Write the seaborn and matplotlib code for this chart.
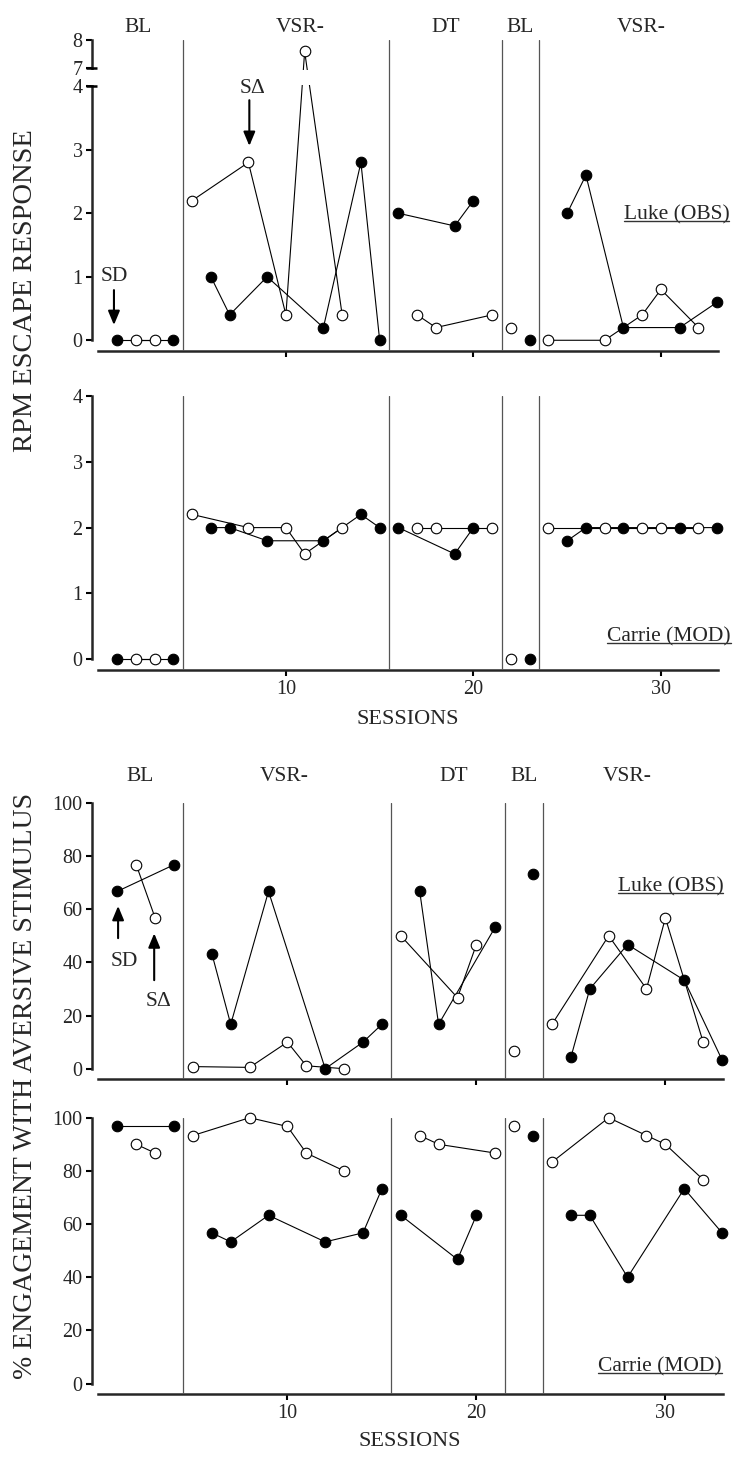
import matplotlib.pyplot as plt
import numpy as np
import pandas as pd
import seaborn as sns
from matplotlib.lines import Line2D

sessions = np.arange(1, 34)
phase_lines = [4.5, 15.5, 21.5, 23.5]
phase_names = ["BL", "VSR-", "DT", "BL", "VSR-"]
phase_label_x_top = [2.1, 10.75, 18.5, 22.48, 28.97]
phase_label_x_bot = [2.2, 9.83, 18.8, 22.5, 27.96]

N = None
# RPM escape response, Luke (SD = filled, S-delta = open)
luke_rpm_sd = [0, N, N, 0, N, 1.0, 0.4, N, 1.0, N, N, 0.2, N, 2.8, 0, 2.0, N, N, 1.8, 2.2,
               N, N, 0, N, 2.0, 2.6, N, 0.2, N, N, 0.2, N, 0.6]
luke_rpm_sdelta = [N, 0, 0, N, 2.2, N, N, 2.8, N, 0.4, 7.6, N, 0.4, N, N, N, 0.4, 0.2, N, N,
                   0.4, 0.2, N, 0, N, N, 0, N, 0.4, 0.8, N, 0.2, N]
# RPM escape response, Carrie
carrie_rpm_sd = [0, N, N, 0, N, 2.0, 2.0, N, 1.8, N, N, 1.8, N, 2.2, 2.0, 2.0, N, N, 1.6, 2.0,
                 N, N, 0, N, 1.8, 2.0, N, 2.0, N, N, 2.0, N, 2.0]
carrie_rpm_sdelta = [N, 0, 0, N, 2.2, N, N, 2.0, N, 2.0, 1.6, N, 2.0, N, N, N, 2.0, 2.0, N, N,
                     2.0, 0, N, 2.0, N, N, 2.0, N, 2.0, 2.0, N, 2.0, N]
# % engagement with aversive stimulus, Luke
luke_eng_sd = [66.7, N, N, 76.7, N, 43.3, 16.7, N, 66.7, N, N, 0, N, 10, 16.7, N, 66.7, 16.7,
               N, N, 53.3, N, 73.3, N, 4.3, 30, N, 46.7, N, N, 33.3, N, 3.3]
luke_eng_sdelta = [N, 76.7, 56.7, N, 0.8, N, N, 0.5, N, 10, 1.1, N, 0, N, N, 50, N, N, 26.7,
                   46.7, N, 6.7, N, 16.7, N, N, 50, N, 30, 56.7, N, 10, N]
# % engagement with aversive stimulus, Carrie
carrie_eng_sd = [96.7, N, N, 96.7, N, 56.7, 53.3, N, 63.3, N, N, 53.3, N, 56.7, 73.3, 63.3, N,
                 N, 46.7, 63.3, N, N, 93.3, N, 63.3, 63.3, N, 40, N, N, 73.3, N, 56.7]
carrie_eng_sdelta = [N, 90, 86.7, N, 93.3, N, N, 100, N, 96.7, 86.7, N, 80, N, N, N, 93.3, 90,
                     N, N, 86.7, 96.7, N, 83.3, N, N, 100, N, 93.3, 90, N, 76.7, N]

rpm_ticks = [0, 1, 2, 3, 4, 7, 8]
eng_ticks = [0, 20, 40, 60, 80, 100]


def broken(v):
    # compress the 7-8 range above a gap, as in the original broken axis
    return v if v <= 4 else 4 + 0.283 + (v - 7) * 0.441


sns.set_theme(style="ticks")
plt.rcParams["font.family"] = ["Liberation Serif", "DejaVu Serif"]
plt.rcParams["axes.linewidth"] = 1.8

fig = plt.figure(figsize=(7.42, 14.58), dpi=100)
XLIM = (-0.356, 33.065)
ax1 = fig.add_axes([0.1236, 0.7593, 0.8446, 0.2131])
ax2 = fig.add_axes([0.1236, 0.5405, 0.8446, 0.1879])
ax3 = fig.add_axes([0.1236, 0.2597, 0.8512, 0.1897])
ax4 = fig.add_axes([0.1236, 0.0439, 0.8512, 0.1895])


def draw(ax, values, filled, yfun=None):
    df = pd.DataFrame({"session": sessions, "value": values}).dropna()
    df["phase"] = np.searchsorted(phase_lines, df["session"])
    df["y"] = df["value"].map(yfun) if yfun else df["value"]
    sns.lineplot(data=df, x="session", y="y", units="phase", estimator=None, sort=True,
                 color="black", lw=0.8, marker="o", markersize=7.6,
                 markerfacecolor="black" if filled else "white",
                 markeredgecolor="black", markeredgewidth=0.8,
                 ax=ax, legend=False, clip_on=False, zorder=3.1 if not filled else 3)


def style(ax, ylim, yticks, ytick_pos, xlabels):
    ax.set_xlim(*XLIM)
    ax.set_ylim(*ylim)
    sns.despine(ax=ax)
    ax.spines["left"].set_bounds(0, ylim[1])
    ax.spines["bottom"].set_bounds(0, XLIM[1])
    ax.set_yticks(ytick_pos, labels=[str(t) for t in yticks])
    ax.set_xticks([10, 20, 30], labels=["10", "20", "30"] if xlabels else ["", "", ""])
    ax.tick_params(axis="both", length=4.5, width=1.5, labelsize=14.5, color="black")
    ax.tick_params(axis="y", pad=2)
    ax.tick_params(axis="x", pad=3)
    ax.set(xlabel="", ylabel="")
    ax.set_facecolor("white")
    for p in phase_lines:
        ax.axvline(p, color="#555555", lw=0.9, zorder=3.6)


# panel 1: Luke RPM with broken axis
draw(ax1, luke_rpm_sd, True, broken)
draw(ax1, luke_rpm_sdelta, False, broken)
style(ax1, (-0.168, broken(8)), rpm_ticks, [broken(t) for t in rpm_ticks], False)
ax1.axhspan(4.025, 4.26, xmin=-0.006, xmax=1, color="white", zorder=3.5, clip_on=False, lw=0)
for t in (4, 7):
    ax1.plot([XLIM[0] - 0.32, XLIM[0] + 0.27], [broken(t)] * 2, color="black", lw=1.8,
             clip_on=False, zorder=3.7, solid_capstyle="butt")

# panel 2: Carrie RPM
draw(ax2, carrie_rpm_sd, True)
draw(ax2, carrie_rpm_sdelta, False)
style(ax2, (-0.163, 4), rpm_ticks[:5], rpm_ticks[:5], True)

# panel 3: Luke engagement
draw(ax3, luke_eng_sd, True)
draw(ax3, luke_eng_sdelta, False)
style(ax3, (-4.0, 100), eng_ticks, eng_ticks, False)

# panel 4: Carrie engagement
draw(ax4, carrie_eng_sd, True)
draw(ax4, carrie_eng_sdelta, False)
style(ax4, (-3.9, 100), eng_ticks, eng_ticks, True)

# phase labels
for name, x in zip(phase_names, phase_label_x_top):
    ax1.text(x, 1.0396, name, transform=ax1.get_xaxis_transform(), ha="center", va="center",
             fontsize=15.5)
for name, x in zip(phase_names, phase_label_x_bot):
    ax3.text(x, 1.094, name, transform=ax3.get_xaxis_transform(), ha="center", va="center",
             fontsize=15.5)

# participant labels
names = [
    ax1.text(1.0175, 0.438, "Luke (OBS)", transform=ax1.transAxes, ha="right", va="center", fontsize=15.5),
    ax2.text(1.02, 0.1215, "Carrie (MOD)", transform=ax2.transAxes, ha="right", va="center", fontsize=15.5),
    ax3.text(1.0, 0.696, "Luke (OBS)", transform=ax3.transAxes, ha="right", va="center", fontsize=15.5),
    ax4.text(0.998, 0.0988, "Carrie (MOD)", transform=ax4.transAxes, ha="right", va="center", fontsize=15.5),
]

# SD / S-delta arrows
arrow = dict(arrowstyle="-|>,head_length=0.6,head_width=0.25", color="black", lw=1.5,
             mutation_scale=14, shrinkA=0, shrinkB=0)
ax1.annotate("", xy=(0.83, 0.24), xytext=(0.83, 0.79), arrowprops=arrow, zorder=4)
ax1.text(0.83, 1.0, "SD", ha="center", va="center", fontsize=15.5, zorder=5)
ax1.annotate("", xy=(8.05, 3.06), xytext=(8.05, 3.78), arrowprops=arrow, zorder=4)
ax1.text(8.2, 3.97, "S\u0394", ha="center", va="center", fontsize=15.5, zorder=5)
ax3.annotate("", xy=(1.04, 61.2), xytext=(1.04, 49.1), arrowprops=arrow, zorder=4)
ax3.text(1.36, 40.2, "SD", ha="center", va="center", fontsize=15.5, zorder=5)
ax3.annotate("", xy=(2.95, 50.9), xytext=(2.95, 33.3), arrowprops=arrow, zorder=4)
ax3.text(3.16, 25.2, "S\u0394", ha="center", va="center", fontsize=15.5, zorder=5)

# axis titles
fig.text(0.0337, 0.801, "RPM ESCAPE RESPONSE", rotation=90, ha="center", va="center", fontsize=20.5)
fig.text(0.0337, 0.255, "% ENGAGEMENT WITH AVERSIVE STIMULUS", rotation=90, ha="center",
         va="center", fontsize=20)
fig.text(0.549, 0.5062, "SESSIONS", ha="center", va="center", fontsize=16)
fig.text(0.5526, 0.0112, "SESSIONS", ha="center", va="center", fontsize=16)

# underline participant labels
fig.canvas.draw()
renderer = fig.canvas.get_renderer()
inv = fig.transFigure.inverted()
for t in names:
    bb = t.get_window_extent(renderer)
    (x0, y0), (x1, _) = inv.transform([(bb.x0, bb.y0 + 3), (bb.x1, bb.y0 + 3)])
    fig.add_artist(Line2D([x0, x1], [y0, y0], transform=fig.transFigure, color="#333333", lw=1))

fig.savefig("out.png", dpi=100)
